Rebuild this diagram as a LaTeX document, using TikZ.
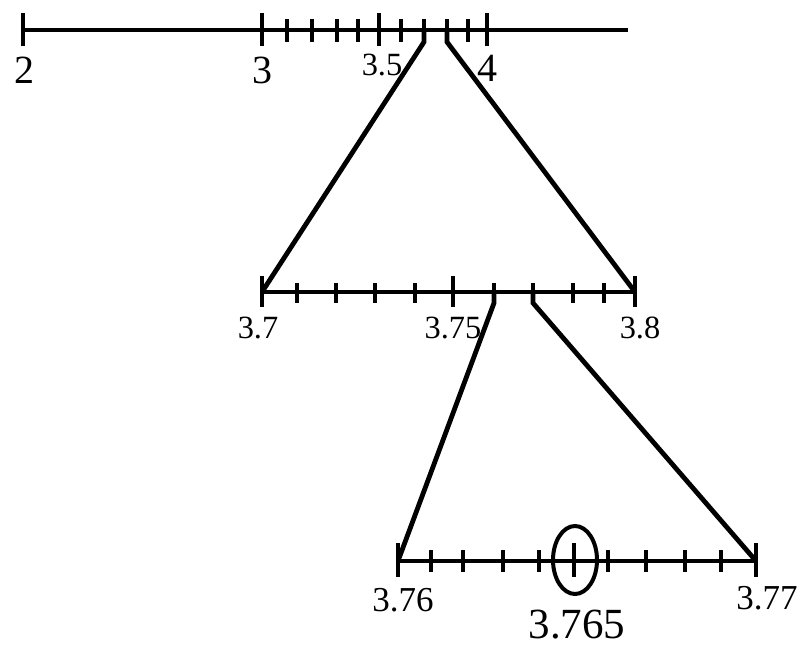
\documentclass[tikz,border=0pt]{standalone}
\usepackage{fontspec}
\setmainfont{Liberation Serif}
\usetikzlibrary{positioning, calc, shapes.geometric}

\begin{document}
\begin{tikzpicture}[x=0.5pt, y=-0.5pt, line width=2.4pt,
    bignum/.style={inner sep=0pt, font=\fontsize{20}{22}\selectfont},
    midnum/.style={inner sep=0pt, font=\fontsize{16.2}{19}\selectfont},
    lownum/.style={inner sep=0pt, font=\fontsize{17.5}{20}\selectfont},
    hitnum/.style={inner sep=0pt, font=\fontsize{21.5}{24}\selectfont}]

    \useasboundingbox (0,0) rectangle (803,652);

    % ---------- top line: 2 to 4 ----------
    \def\ya{30}
    \draw (23,\ya) coordinate (a0) -- (628,\ya) coordinate (aend);
    \draw (23,13) -- (23,46);
    \foreach \x [count=\i] in {262,287,312,337,358,379,401,424,447,468,487}
      \draw (\x,19) -- (\x,42) coordinate (ta\i);
    \foreach \x in {262,379,487}
      \draw (\x,13) -- (\x,46);

    \node[bignum] (n2)  at (24,70)  {2};
    \node[bignum] (n3)  at (262,70) {3};
    \node[midnum] (n35) at (382,65) {3.5};
    \node[bignum] (n4)  at (487,68) {4};

    % ---------- middle line: 3.7 to 3.8 ----------
    \def\yb{292}
    \draw (262,\yb) coordinate (b0) -- (635,\yb) coordinate (bend);
    \foreach \x [count=\i] in {262,297,336,375,415,453,494,533,573,604,635}
      \draw (\x,283) -- (\x,303) coordinate (tb\i);
    \foreach \x in {262,453,635}
      \draw (\x,276) -- (\x,307);

    \node[midnum] (n37)  at (258,328) {3.7};
    \node[midnum] (n375) at (453,328) {3.75};
    \node[midnum] (n38)  at (640,328) {3.8};

    % ---------- bottom line: 3.76 to 3.77 ----------
    \def\yc{561}
    \draw (398,\yc) coordinate (c0) -- (756,\yc) coordinate (cend);
    \foreach \x [count=\i] in {398,431,463,503,539,574,608,646,685,721,756}
      \draw (\x,550) -- (\x,572) coordinate (tc\i);
    \foreach \x in {398,574,756}
      \draw (\x,543) -- (\x,577);

    \node[lownum] (n376)  at (403,600) {3.76};
    \node[lownum] (n377)  at (767,598) {3.77};
    \node[hitnum] (n3765) at (577,625) {3.765};

    % ---------- circled value ----------
    \node[draw, ellipse, line width=2pt, inner sep=0pt,
          minimum width=22pt, minimum height=34pt] (hit) at (575,560) {};

    % ---------- zoom connectors ----------
    \draw (ta8 |- a0) -- (ta8) -- (b0);
    \draw (ta9 |- a0) -- (ta9) -- (bend);
    \draw (tb7 |- b0) -- (tb7) -- (c0);
    \draw (tb8 |- b0) -- (tb8) -- (cend);

\end{tikzpicture}
\end{document}
